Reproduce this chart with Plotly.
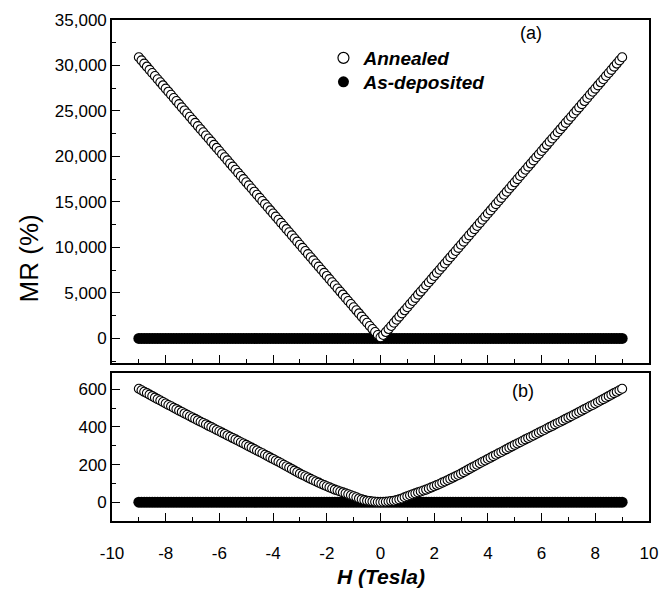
import plotly.graph_objects as go

# ---------------- data ----------------
H_FIELD = [
    -9.0, -8.9, -8.8, -8.7, -8.6, -8.5, -8.4, -8.3, -8.2, -8.1,
    -8.0, -7.9, -7.8, -7.7, -7.6, -7.5, -7.4, -7.3, -7.2, -7.1,
    -7.0, -6.9, -6.8, -6.7, -6.6, -6.5, -6.4, -6.3, -6.2, -6.1,
    -6.0, -5.9, -5.8, -5.7, -5.6, -5.5, -5.4, -5.3, -5.2, -5.1,
    -5.0, -4.9, -4.8, -4.7, -4.6, -4.5, -4.4, -4.3, -4.2, -4.1,
    -4.0, -3.9, -3.8, -3.7, -3.6, -3.5, -3.4, -3.3, -3.2, -3.1,
    -3.0, -2.9, -2.8, -2.7, -2.6, -2.5, -2.4, -2.3, -2.2, -2.1,
    -2.0, -1.9, -1.8, -1.7, -1.6, -1.5, -1.4, -1.3, -1.2, -1.1,
    -1.0, -0.9, -0.8, -0.7, -0.6, -0.5, -0.4, -0.3, -0.2, -0.1,
    0.0,
    0.1, 0.2, 0.3, 0.4, 0.5, 0.6, 0.7, 0.8, 0.9, 1.0,
    1.1, 1.2, 1.3, 1.4, 1.5, 1.6, 1.7, 1.8, 1.9, 2.0,
    2.1, 2.2, 2.3, 2.4, 2.5, 2.6, 2.7, 2.8, 2.9, 3.0,
    3.1, 3.2, 3.3, 3.4, 3.5, 3.6, 3.7, 3.8, 3.9, 4.0,
    4.1, 4.2, 4.3, 4.4, 4.5, 4.6, 4.7, 4.8, 4.9, 5.0,
    5.1, 5.2, 5.3, 5.4, 5.5, 5.6, 5.7, 5.8, 5.9, 6.0,
    6.1, 6.2, 6.3, 6.4, 6.5, 6.6, 6.7, 6.8, 6.9, 7.0,
    7.1, 7.2, 7.3, 7.4, 7.5, 7.6, 7.7, 7.8, 7.9, 8.0,
    8.1, 8.2, 8.3, 8.4, 8.5, 8.6, 8.7, 8.8, 8.9, 9.0,
]

# panel (a): MR (%) of the annealed film
MR_ANNEALED_A = [
    30900, 30560, 30210, 29870, 29520, 29180, 28840, 28490, 28150, 27810,
    27460, 27120, 26780, 26430, 26090, 25750, 25400, 25060, 24720, 24370,
    24030, 23690, 23340, 23000, 22660, 22310, 21970, 21630, 21280, 20940,
    20600, 20250, 19910, 19570, 19220, 18880, 18540, 18190, 17850, 17510,
    17160, 16820, 16480, 16130, 15790, 15450, 15100, 14760, 14420, 14070,
    13730, 13390, 13040, 12700, 12360, 12010, 11670, 11330, 10980, 10640,
    10300, 9950, 9610, 9270, 8920, 8580, 8240, 7890, 7550, 7210,
    6870, 6520, 6180, 5840, 5490, 5150, 4810, 4460, 4120, 3780,
    3430, 3090, 2750, 2400, 2060, 1720, 1370, 1030, 700, 380,
    120,
    380, 700, 1030, 1370, 1720, 2060, 2400, 2750, 3090, 3430,
    3780, 4120, 4460, 4810, 5150, 5490, 5840, 6180, 6520, 6870,
    7210, 7550, 7890, 8240, 8580, 8920, 9270, 9610, 9950, 10300,
    10640, 10980, 11330, 11670, 12010, 12360, 12700, 13040, 13390, 13730,
    14070, 14420, 14760, 15100, 15450, 15790, 16130, 16480, 16820, 17160,
    17510, 17850, 18190, 18540, 18880, 19220, 19570, 19910, 20250, 20600,
    20940, 21280, 21630, 21970, 22310, 22660, 23000, 23340, 23690, 24030,
    24370, 24720, 25060, 25400, 25750, 26090, 26430, 26780, 27120, 27460,
    27810, 28150, 28490, 28840, 29180, 29520, 29870, 30210, 30560, 30900,
]

# panel (a): MR (%) of the as-deposited film
MR_ASDEP_A = [
    0, 0, 0, 0, 0, 0, 0, 0, 0, 0, 0, 0, 0, 0, 0, 0, 0, 0, 0, 0,
    0, 0, 0, 0, 0, 0, 0, 0, 0, 0, 0, 0, 0, 0, 0, 0, 0, 0, 0, 0,
    0, 0, 0, 0, 0, 0, 0, 0, 0, 0, 0, 0, 0, 0, 0, 0, 0, 0, 0, 0,
    0, 0, 0, 0, 0, 0, 0, 0, 0, 0, 0, 0, 0, 0, 0, 0, 0, 0, 0, 0,
    0, 0, 0, 0, 0, 0, 0, 0, 0, 0, 0, 0, 0, 0, 0, 0, 0, 0, 0, 0,
    0, 0, 0, 0, 0, 0, 0, 0, 0, 0, 0, 0, 0, 0, 0, 0, 0, 0, 0, 0,
    0, 0, 0, 0, 0, 0, 0, 0, 0, 0, 0, 0, 0, 0, 0, 0, 0, 0, 0, 0,
    0, 0, 0, 0, 0, 0, 0, 0, 0, 0, 0, 0, 0, 0, 0, 0, 0, 0, 0, 0,
    0, 0, 0, 0, 0, 0, 0, 0, 0, 0, 0, 0, 0, 0, 0, 0, 0, 0, 0, 0,
    0,
]

# panel (b): MR (%) of the annealed film
MR_ANNEALED_B = [
    603, 595, 587, 580, 572, 564, 556, 548, 541, 533,
    525, 517, 510, 502, 495, 487, 480, 472, 465, 457,
    450, 443, 435, 428, 421, 414, 406, 399, 392, 384,
    377, 370, 363, 355, 348, 341, 334, 327, 319, 312,
    305, 297, 290, 282, 275, 267, 260, 252, 245, 237,
    230, 222, 215, 207, 199, 191, 184, 176, 168, 160,
    152, 145, 138, 131, 124, 117, 110, 104, 97, 91,
    85, 79, 73, 67, 62, 57, 52, 47, 42, 37,
    32, 26, 20, 15, 11, 8, 6, 4, 2, 1,
    0,
    1, 2, 4, 6, 8, 11, 15, 20, 26, 32,
    37, 42, 47, 52, 57, 62, 67, 73, 79, 85,
    91, 97, 104, 110, 117, 124, 131, 138, 145, 152,
    160, 168, 176, 184, 191, 199, 207, 215, 222, 230,
    237, 245, 252, 260, 267, 275, 282, 290, 297, 305,
    312, 319, 327, 334, 341, 348, 355, 363, 370, 377,
    384, 392, 399, 406, 414, 421, 428, 435, 443, 450,
    457, 465, 472, 480, 487, 495, 502, 510, 517, 525,
    533, 541, 548, 556, 564, 572, 580, 587, 595, 603,
]

# panel (b): MR (%) of the as-deposited film
MR_ASDEP_B = [
    0, 0, 0, 0, 0, 0, 0, 0, 0, 0, 0, 0, 0, 0, 0, 0, 0, 0, 0, 0,
    0, 0, 0, 0, 0, 0, 0, 0, 0, 0, 0, 0, 0, 0, 0, 0, 0, 0, 0, 0,
    0, 0, 0, 0, 0, 0, 0, 0, 0, 0, 0, 0, 0, 0, 0, 0, 0, 0, 0, 0,
    0, 0, 0, 0, 0, 0, 0, 0, 0, 0, 0, 0, 0, 0, 0, 0, 0, 0, 0, 0,
    0, 0, 0, 0, 0, 0, 0, 0, 0, 0, 0, 0, 0, 0, 0, 0, 0, 0, 0, 0,
    0, 0, 0, 0, 0, 0, 0, 0, 0, 0, 0, 0, 0, 0, 0, 0, 0, 0, 0, 0,
    0, 0, 0, 0, 0, 0, 0, 0, 0, 0, 0, 0, 0, 0, 0, 0, 0, 0, 0, 0,
    0, 0, 0, 0, 0, 0, 0, 0, 0, 0, 0, 0, 0, 0, 0, 0, 0, 0, 0, 0,
    0, 0, 0, 0, 0, 0, 0, 0, 0, 0, 0, 0, 0, 0, 0, 0, 0, 0, 0, 0,
    0,
]

X_TICK_VALUES = [-10, -8, -6, -4, -2, 0, 2, 4, 6, 8, 10]
X_TICK_LABELS = ["-10", "-8", "-6", "-4", "-2", "0", "2", "4", "6", "8", "10"]
YA_TICK_VALUES = [0, 5000, 10000, 15000, 20000, 25000, 30000, 35000]
YA_TICK_LABELS = ["0", "5,000", "10,000", "15,000", "20,000", "25,000", "30,000", "35,000"]
YB_TICK_VALUES = [0, 200, 400, 600]
YB_TICK_LABELS = ["0", "200", "400", "600"]

SERIES_NAMES = ["Annealed", "As-deposited"]

# ---------------- figure ----------------
FONT = "Liberation Sans, Arial, sans-serif"
W, H = 669, 598
ML, MR_, MT, MB = 112, 11, 20, 77
PW = W - ML - MR_
PH = H - MT - MB


def px_x(px):
    return (px - ML) / PW


def px_y(py):
    return (H - MB - py) / PH


open_marker = dict(symbol="circle", size=9, color="white",
                   line=dict(color="black", width=1.1))
filled_marker = dict(symbol="circle", size=11, color="black",
                     line=dict(color="black", width=0))

fig = go.Figure()
# As-deposited drawn first so the annealed circles sit on top
fig.add_trace(go.Scatter(x=H_FIELD, y=MR_ASDEP_A, mode="markers",
                         marker=filled_marker, showlegend=False,
                         xaxis="x", yaxis="y"))
fig.add_trace(go.Scatter(x=H_FIELD, y=MR_ANNEALED_A, mode="markers",
                         marker=open_marker, showlegend=False,
                         xaxis="x", yaxis="y"))
fig.add_trace(go.Scatter(x=H_FIELD, y=MR_ASDEP_B, mode="markers",
                         marker=filled_marker, showlegend=False,
                         xaxis="x2", yaxis="y2"))
fig.add_trace(go.Scatter(x=H_FIELD, y=MR_ANNEALED_B, mode="markers",
                         marker=open_marker, showlegend=False,
                         xaxis="x2", yaxis="y2"))

# legend entries (empty traces that only carry the legend symbols)
fig.add_trace(go.Scatter(x=[None], y=[None], mode="markers",
                         name="<b><i>" + SERIES_NAMES[0] + "</i></b>",
                         marker=dict(symbol="circle", size=11, color="white",
                                     line=dict(color="black", width=1.2)),
                         legend="legend", xaxis="x", yaxis="y"))
fig.add_trace(go.Scatter(x=[None], y=[None], mode="markers",
                         name="<b><i>" + SERIES_NAMES[1] + "</i></b>",
                         marker=dict(symbol="circle", size=11, color="black"),
                         legend="legend2", xaxis="x", yaxis="y"))

axis_common = dict(
    showline=True, linecolor="black", linewidth=1.6, mirror=True,
    ticks="inside", tickcolor="black", ticklen=8, tickwidth=1.4,
    showgrid=False, zeroline=False,
    tickfont=dict(family=FONT, size=17, color="black"),
)

top_bottom_px = 363
bot_top_px = 373
dom_a = [px_y(top_bottom_px), 1.0]
dom_b = [0.0, px_y(bot_top_px)]

legend_common = dict(xanchor="left", yanchor="middle",
                     bgcolor="rgba(0,0,0,0)", borderwidth=0,
                     font=dict(family=FONT, size=19, color="black"))

fig.update_layout(
    width=W, height=H,
    margin=dict(l=ML, r=MR_, t=MT, b=MB),
    paper_bgcolor="white", plot_bgcolor="white",
    font=dict(family=FONT, color="black"),
    xaxis=dict(axis_common, domain=[0, 1], range=[-10, 10], anchor="y",
               tickvals=X_TICK_VALUES, ticktext=X_TICK_LABELS,
               showticklabels=False,
               minor=dict(ticks="inside", ticklen=4, dtick=1, tick0=0,
                          tickcolor="black", tickwidth=1.2)),
    yaxis=dict(axis_common, domain=dom_a, range=[-2700, 35000], anchor="x",
               tickvals=YA_TICK_VALUES, ticktext=YA_TICK_LABELS,
               minor=dict(ticks="inside", ticklen=4, dtick=2500, tick0=0,
                          tickcolor="black", tickwidth=1.2)),
    xaxis2=dict(axis_common, domain=[0, 1], range=[-10, 10], anchor="y2",
                tickvals=X_TICK_VALUES, ticktext=X_TICK_LABELS,
                ticklabelstandoff=16,
                minor=dict(ticks="inside", ticklen=4, dtick=1, tick0=0,
                           tickcolor="black", tickwidth=1.2)),
    yaxis2=dict(axis_common, domain=dom_b, range=[-100, 687], anchor="x2",
                tickvals=YB_TICK_VALUES, ticktext=YB_TICK_LABELS,
                minor=dict(ticks="inside", ticklen=4, dtick=100, tick0=0,
                           tickcolor="black", tickwidth=1.2)),
    legend=dict(legend_common, x=px_x(327), y=px_y(58)),
    legend2=dict(legend_common, x=px_x(327), y=px_y(82)),
    showlegend=True,
)

ann_font = dict(family=FONT, size=18, color="black")
fig.add_annotation(text="(a)", x=px_x(538), y=px_y(33), xref="paper", yref="paper",
                   xanchor="center", yanchor="middle", showarrow=False, font=ann_font)
fig.add_annotation(text="(b)", x=px_x(530), y=px_y(391), xref="paper", yref="paper",
                   xanchor="center", yanchor="middle", showarrow=False, font=ann_font)
fig.add_annotation(text="MR (%)", x=px_x(28), y=px_y(258), xref="paper", yref="paper",
                   xanchor="center", yanchor="middle", showarrow=False, textangle=-90,
                   font=dict(family=FONT, size=26, color="black"))
fig.add_annotation(text="<b><i>H (Tesla)</i></b>", x=px_x(385), y=px_y(576),
                   xref="paper", yref="paper", xanchor="center", yanchor="middle",
                   showarrow=False, font=dict(family=FONT, size=21, color="black"))

fig.write_html("out.html")
